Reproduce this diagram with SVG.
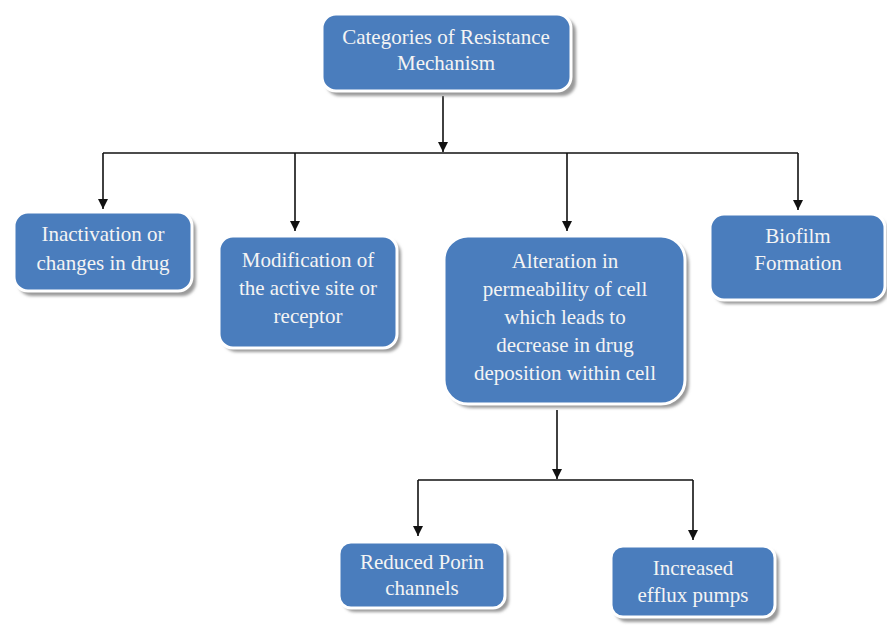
<svg xmlns="http://www.w3.org/2000/svg" width="887" height="625" viewBox="0 0 887 625">
<defs>
<style>
.box{fill:#4a7dbd;stroke:#ffffff;stroke-width:3}
.sh{fill:#9a9a9a;filter:url(#blur)}
.t{font-family:"Liberation Serif","DejaVu Serif",serif;font-size:21px;fill:#f4f4f4;text-anchor:middle}
.c{fill:none;stroke:#111;stroke-width:1.6}
</style>
<filter id="blur" x="-10%" y="-10%" width="120%" height="120%"><feGaussianBlur stdDeviation="1.5"/></filter>
<marker id="ah" viewBox="0 0 10 10" refX="10" refY="5" markerWidth="10" markerHeight="10" markerUnits="userSpaceOnUse" orient="auto"><path d="M0,0 L10,5 L0,10 z" fill="#111"/></marker>
</defs>
<rect width="887" height="625" fill="#ffffff"/>
<g id="connectors">
<path class="c" d="M443,96 V152" marker-end="url(#ah)"/>
<path class="c" d="M103,153 H798"/>
<path class="c" d="M103,153 V209" marker-end="url(#ah)"/>
<path class="c" d="M295,153 V231" marker-end="url(#ah)"/>
<path class="c" d="M567,153 V231" marker-end="url(#ah)"/>
<path class="c" d="M798,153 V210" marker-end="url(#ah)"/>
<path class="c" d="M557,410 V479" marker-end="url(#ah)"/>
<path class="c" d="M418,480 H693"/>
<path class="c" d="M418,480 V536" marker-end="url(#ah)"/>
<path class="c" d="M693,480 V540" marker-end="url(#ah)"/>
</g>
<g id="n0">
<rect class="sh" x="326" y="18" width="250" height="78" rx="14"/>
<rect class="box" x="322" y="14" width="249" height="77" rx="14"/>
<text class="t" x="446" y="44">Categories of Resistance</text>
<text class="t" x="446" y="70">Mechanism</text>
</g>
<g id="n1">
<rect class="sh" x="18" y="216" width="178" height="80" rx="14"/>
<rect class="box" x="14" y="212" width="178" height="79" rx="14"/>
<text class="t" x="103" y="241">Inactivation or</text>
<text class="t" x="103" y="270">changes in drug</text>
</g>
<g id="n2">
<rect class="sh" x="223" y="240" width="178" height="112" rx="14"/>
<rect class="box" x="219" y="236" width="178" height="112" rx="14"/>
<text class="t" x="308" y="267">Modification of</text>
<text class="t" x="308" y="295">the active site or</text>
<text class="t" x="308" y="323">receptor</text>
</g>
<g id="n3">
<rect class="sh" x="448" y="240" width="241" height="168" rx="24"/>
<rect class="box" x="444" y="236" width="241" height="168" rx="24"/>
<text class="t" x="565" y="268">Alteration in</text>
<text class="t" x="565" y="296">permeability of cell</text>
<text class="t" x="565" y="324">which leads to</text>
<text class="t" x="565" y="352">decrease in drug</text>
<text class="t" x="565" y="380">deposition within cell</text>
</g>
<g id="n4">
<rect class="sh" x="714" y="218" width="174" height="86" rx="14"/>
<rect class="box" x="710" y="214" width="175" height="86" rx="14"/>
<text class="t" x="798" y="243">Biofilm</text>
<text class="t" x="798" y="270">Formation</text>
</g>
<g id="n5">
<rect class="sh" x="343" y="546" width="166" height="66" rx="12"/>
<rect class="box" x="339" y="542" width="166" height="66" rx="12"/>
<text class="t" x="422" y="569">Reduced Porin</text>
<text class="t" x="422" y="595">channels</text>
</g>
<g id="n6">
<rect class="sh" x="615" y="550" width="164" height="72" rx="12"/>
<rect class="box" x="611" y="546" width="164" height="71" rx="12"/>
<text class="t" x="693" y="575">Increased</text>
<text class="t" x="693" y="602">efflux pumps</text>
</g>
</svg>
